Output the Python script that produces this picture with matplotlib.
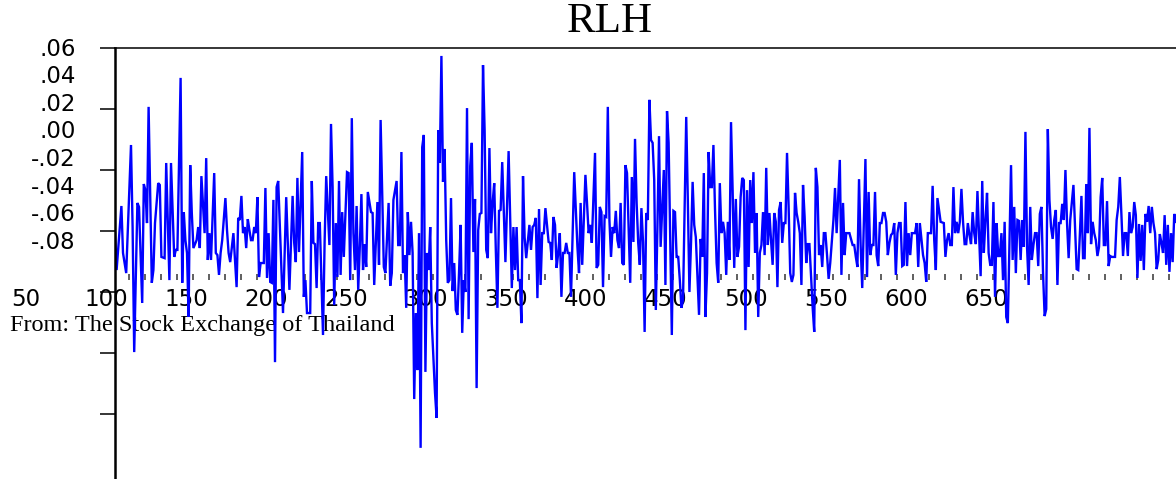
import numpy as np
import matplotlib
matplotlib.use("Agg")
import matplotlib.pyplot as plt

# RLH daily returns (percent)
obs = [0, 1, 4, 5, 7, 10, 11, 12, 14, 15, 17, 18, 19, 20, 21, 23, 24, 25, 27, 28,
       29, 31, 32, 34, 35, 37, 38, 39, 41, 42, 43, 44, 45, 46, 47, 48, 49, 51, 52, 53,
       54, 56, 57, 58, 59, 60, 62, 63, 64, 65, 66, 67, 69, 70, 71, 72, 74, 76, 77, 78,
       79, 80, 81, 82, 83, 84, 85, 86, 87, 88, 89, 90, 91, 93, 94, 95, 96, 97, 98, 99,
       100, 101, 102, 105, 107, 109, 111, 112, 113, 114, 115, 117, 118, 119, 120, 122, 123, 124, 125, 126,
       127, 128, 130, 131, 132, 134, 135, 136, 137, 138, 139, 140, 141, 142, 143, 145, 146, 147, 148, 149,
       150, 151, 152, 153, 154, 155, 156, 157, 158, 160, 161, 162, 164, 165, 166,
       168, 169, 171, 172, 173, 174, 176, 177, 178, 179, 180, 181, 182, 183, 184, 185, 186, 187, 188, 189,
       190, 191, 192, 193, 194, 195, 196, 197, 198, 200, 201, 202, 203, 204, 205, 206, 207, 208, 209, 210,
       211, 212, 213, 214, 215, 216, 217, 218, 219, 220, 221, 222, 223, 224, 225, 226, 227, 228, 229, 230,
       231, 232, 233, 234, 235, 236, 237, 238, 239, 240, 241, 242, 244, 246, 248, 249, 250, 251, 252, 253,
       254, 255, 256, 257, 259, 260, 261, 262, 263, 264, 265, 266, 267, 268, 269, 271, 272, 273, 274, 275,
       276, 277, 278, 279, 280, 281, 282, 283, 284, 285, 287, 289, 290, 291, 292, 294, 295, 296, 297, 298,
       300, 301, 302, 303, 304, 305, 306, 307, 308, 309, 310, 311, 312, 313, 314, 315, 316, 317, 318, 319,
       320, 321, 322, 323, 324, 325, 326, 327, 328, 329, 330, 331, 332, 333, 334,
       335, 336, 337, 338, 339, 340, 341, 343, 344, 345, 346, 347, 348, 349, 350, 351, 352, 353, 354, 355,
       357, 358, 359, 360, 361, 362, 363, 365, 366, 367, 368, 369, 370, 371, 372, 373, 374, 375, 376, 377,
       378, 379, 380, 381, 382, 383, 384, 385, 386, 387, 388, 389, 390, 391, 392, 393, 394, 395, 396, 397,
       398, 399, 400, 401, 402, 403, 404, 405, 406, 407, 408, 409, 410, 411, 412, 413, 414, 415, 416, 417,
       418, 419, 420, 421, 422, 423, 424, 425, 426, 427, 428, 429, 430, 431, 432, 433, 434, 436, 437, 438,
       439, 440, 441, 442, 443, 444, 445, 446, 447, 449, 450, 451, 453, 454, 455, 456, 457, 459, 461, 462,
       463, 464, 465, 466, 467, 469, 470, 471, 472, 473, 474, 475, 476, 477, 478, 479, 480, 481, 482, 483,
       484, 485, 486, 487, 488, 489, 490, 491, 492, 493, 494, 495, 496, 497, 498, 500, 501, 502,
       503, 505, 506, 507, 508, 510, 511, 512, 513, 514, 516, 518, 519, 520, 521, 522, 523, 524, 525, 526,
       527, 528, 529, 530, 531, 532, 533, 534, 535, 536, 537, 538, 539, 540, 541, 542, 543, 544, 545, 546,
       547, 548, 549, 550, 551, 552, 553, 554, 555, 556, 557, 558, 559, 560, 561, 562, 563, 564, 565, 566,
       567, 568, 569, 570, 571, 572, 573, 574, 575, 576, 577, 578, 579, 580, 581, 582, 583, 584, 585, 586,
       587, 588, 589, 590, 591, 592, 593, 594, 595, 596, 597, 599, 600, 601, 602, 603, 604, 605, 606, 607,
       608, 609, 610, 611, 612, 613, 614, 615, 616, 617, 618, 619, 620, 621, 622, 623, 625, 626, 627, 628,
       629, 630, 631, 632, 633, 634, 635, 636, 637, 638, 639, 640, 641, 642, 643, 644, 645, 646, 647, 648,
       649, 650, 651, 652, 653, 654, 655, 656, 657, 658, 659, 660, 661, 662, 663]

rlh = [-0.07, -1.28, 0.82, -0.72, -1.38, 2.82, 0.13, -3.97, 0.92, 0.79, -2.36, 1.54, 1.34, 0.26, 4.07, -1.70, -1.28, 0.26, 1.57, 1.51,
       -0.85, -0.89, 2.23, -1.61, 2.23, -0.85, -0.62, -0.62, 5.02, -1.70, 0.62, -0.30, -0.72, -2.82, 2.16, 0.59, -0.56, -0.30, 0.13, -0.56,
       1.80, -0.07, 2.39, -0.95, -0.07, -0.95, 1.90, -0.72, -0.79, -1.44, -0.72, -0.30, 1.08, 0.03, -0.72, -1.02, -0.07, -1.84, 0.43, 0.36,
       1.15, -0.07, 0.13, -0.56, 0.39, 0.03, -0.30, -0.30, 0.13, -0.07, 1.11, -1.51, -1.05, -1.05, 1.41, -1.54, -0.07, -1.67, -1.70, 1.02,
       -4.30, 1.44, 1.64, -2.69, 1.11, -1.93, 1.15, -0.39, -1.02, 1.74, -0.69, 2.59, -2.16, -1.61, -2.69, -2.69, 1.64, -0.39, -0.43, -1.87,
       0.26, 0.26, -3.41, -0.36, 1.80, -0.46, 3.51, 1.44, -2.43, 0.26, -1.51, 1.64, -1.44, 0.62, -0.85, 1.93, 1.90, -1.61, 3.70, -0.07,
       -1.28, 0.82, -1.93, -0.52, 1.21, -1.28, -0.43, -1.18, 1.28, 0.62, 0.59, -1.77, 0.95, -1.11, 3.64,
       -1.18, -1.38, 0.92, -1.80, -1.38, 1.02, 1.64, -0.46, -0.46, 2.59, -1.38, -0.79, -2.52, 0.62, -0.79, 0.30, -0.72, -5.51, -2.69, -4.56,
       -0.07, -7.11, 2.75, 3.15, -4.62, -0.72, -1.28, 0.13, -3.02, -5.31, -6.13, 3.31, 2.23, 5.74, 1.61, 2.69, -0.30, -1.70, -1.61, 1.08,
       -1.97, -1.05, -2.59, -2.75, -1.38, 0.20, -3.34, -1.61, -2.00, 4.03, -2.89, 2.13, 2.89, -0.69, 1.05, -5.15, 0.03, 0.56, 0.59, 5.44,
       3.31, -0.62, -0.89, 2.72, -0.07, 0.92, 1.57, -0.62, -2.52, 0.66, 0.69, 2.26, -1.02, 2.62, -1.87, 0.13, -1.28, 0.13, -1.61, -1.61,
       -3.02, 1.80, -0.20, -0.89, 0.20, -0.62, 0.13, 0.20, 0.43, -2.20, 0.72, -1.77, -0.07, -0.07, 0.75, -0.36, -0.39, -0.95, 0.46, 0.20,
       -1.21, -0.72, -0.07, -2.16, -0.72, -0.72, -0.39, -0.72, -0.72, -2.16, 1.93, -0.52, -1.38, 0.92, -1.11, 1.84, 0.92, -0.07, 0.20, -0.39,
       2.56, -1.21, -1.11, 0.79, 0.62, -1.84, 0.49, 0.46, 4.07, 0.36, -0.85, 0.13, -0.07, 0.66, -0.30, -0.56, 0.92, -1.05, -1.11, 2.16,
       1.90, 0.13, -1.70, 1.77, -0.36, 3.02, 0.92, -0.39, -1.11, 0.75, -0.36, -3.31, 0.59, 0.36, 4.30,
       2.98, 2.89, 1.67, -2.59, 0.13, 3.11, -0.52, 2.00, -1.77, 3.93, 2.89, -0.30, -3.41, 0.66, 0.62, -0.85, -0.85, -1.61, -2.52, -2.26,
       3.74, 1.02, -2.00, -0.39, 1.61, 0.20, -0.20, -2.75, -0.26, -0.85, 1.90, -2.82, -1.38, 2.59, 1.44, 1.44, 2.82, 0.69, -1.05, -1.70,
       1.57, -0.07, 0.30, -0.07, -1.44, 0.30, -0.95, 3.57, 1.34, -1.21, 1.05, -0.85, -0.52, 1.11, 1.74, 1.67, -3.25, 1.34, -1.18, 1.67,
       0.26, 1.93, -0.72, 0.59, -2.82, -0.72, -0.46, 0.62, -0.79, 2.07, -0.46, 0.59, -0.30, -1.11, 0.59, 0.30, -1.84, 0.69, 0.95, -0.39,
       0.26, 0.26, 2.56, 0.79, -1.38, -1.67, -1.44, 1.25, 0.59, 0.30, -0.07, -1.77, 1.51, 0.46, -1.05, -0.43, -0.43, -2.49, -3.31, 2.07,
       1.44, -0.79, -0.46, -1.18, -0.07, -0.07, -0.79, -1.57, -1.05, 0.36, 1.41, -0.07, 2.33, -1.44, 0.92, -0.79, -0.07, -0.07, -0.46, -0.46,
       -0.85, -1.18, 1.70, -0.46, -1.87, 2.36, -1.51, 1.28, -0.79, -0.46, -0.46, 1.28, -0.79, -1.15, 0.26, 0.26, 0.59, 0.59, 0.30, -0.79,
       -0.39, -0.13, -0.07, 0.26, -1.44, -0.07, 0.26, 0.26, -1.15, -1.11, 0.95, -1.15, -0.07, -0.79, -0.07, -0.07, 0.26, -1.18,
       0.26, -0.79, -1.05, -1.67, -0.07, -0.07, 1.48, -0.30, -1.28, 1.08, 0.30, 0.26, -0.85, -0.30, -0.07, -0.46, -0.46, 1.44, -0.07, 0.30,
       -0.07, 0.30, 1.38, 0.30, -0.43, -0.43, 0.26, -0.13, -0.43, 0.62, -0.07, -0.43, 1.31, -0.07, -1.48, 1.64, -0.72, 0.36, 1.25, -0.72,
       -1.11, -1.11, 0.95, -2.16, 0.26, -0.82, -0.82, -0.07, -1.61, 0.30, -2.82, -3.02, -0.49, 2.16, -0.95, 0.79, -1.38, 0.36, 0.33, -0.95,
       0.36, -0.52, 3.25, -0.52, -1.77, 0.79, -0.95, -0.46, -0.07, -0.07, -1.15, 0.56, 0.79, -1.38, -2.79, -2.56, 3.34, 1.02, 0.13, -0.26,
       0.36, 0.69, -1.77, 0.26, 0.26, 0.89, 0.36, 2.00, 0.26, -0.89, 0.36, 1.51, 0.13, -1.25, -1.28, -0.13, 1.15, -0.89, -0.89, 1.54,
       -0.07, 3.38, -0.43, 0.30, -0.07, -0.30, -0.82, -0.52, 1.11, 1.74, -0.46, -0.46, 0.98, -1.15, -0.82, -0.85, -0.85, 0.36, 0.79, 1.77,
       0.52, -0.82, -0.07, -0.07, -0.82, 0.62, -0.07, 0.13, 0.95, 0.52, -1.54, 0.23, -0.98, 0.20, -1.28, 0.56, 0.30, 0.82, -0.07, 0.79,
       0.26, -0.07, -1.25, -0.95, -0.10, -0.39, -0.72, 0.52, -1.11, 0.20, -1.34, -0.07, -1.02, 0.56, 0.30]

y_ticks = [6, 4, 2, 0, -2, -4, -6]
y_labels = [".06", ".04", ".02", ".00", "-.02", "-.04", "-.06", "-.08"]
x_labels = [50, 100, 150, 200, 250, 300, 350, 400, 450, 500, 550, 600, 650]

W, H = 1176, 479
fig = plt.figure(figsize=(W / 100, H / 100), dpi=100)

# main plot area
ax = fig.add_axes([115 / W, 0, (W - 115) / W, (H - 48) / H])
ax.plot(obs, rlh, color="#0000ff", lw=1.7, solid_joinstyle="miter")
ax.set_xlim(0, 663.1)
ax.set_ylim(6 - 431 / 30.5, 6)
ax.set_yticks(y_ticks)
ax.set_yticklabels([])
ax.set_xticks([])
ax.tick_params(axis="y", direction="out", length=11, width=1.1, color="black")
ax.spines["right"].set_visible(False)
ax.spines["bottom"].set_visible(False)
ax.spines["left"].set_linewidth(1.8)
ax.spines["top"].set_linewidth(1.1)
ax.patch.set_visible(False)
ax.set_zorder(2)

# the date axis, which sits halfway down the frame
ax2 = fig.add_axes([0, (H - 280) / H, 1, 0.01])
ax2.set_xlim(33.75, 768.75)
ax2.set_frame_on(False)
ax2.set_yticks([])
ax2.set_xticks(x_labels)
ax2.set_xticklabels([str(v) for v in x_labels], fontsize=16.5, family="DejaVu Sans")
ax2.set_xticks(114.4 + 10 * np.arange(66), minor=True)
ax2.tick_params(axis="x", which="major", length=0, pad=6)
ax2.tick_params(axis="x", which="minor", direction="in", length=4, width=1.2, color="#444444")
ax2.set_zorder(1)

for i, lab in enumerate(y_labels):
    fig.text(76 / W, 1 - (49 + 27.6 * i) / H, lab, ha="right", va="center",
             fontsize=16.5, family="DejaVu Sans")

fig.text(610 / W, 1 - 22 / H, "RLH", ha="center", va="center",
         fontsize=31, family="Liberation Serif")
fig.text(10 / W, 1 - 325 / H, "From: The Stock Exchange of Thailand", ha="left", va="center",
         fontsize=17.5, family="Liberation Serif", zorder=0.5)

fig.savefig("out.png", dpi=100)
